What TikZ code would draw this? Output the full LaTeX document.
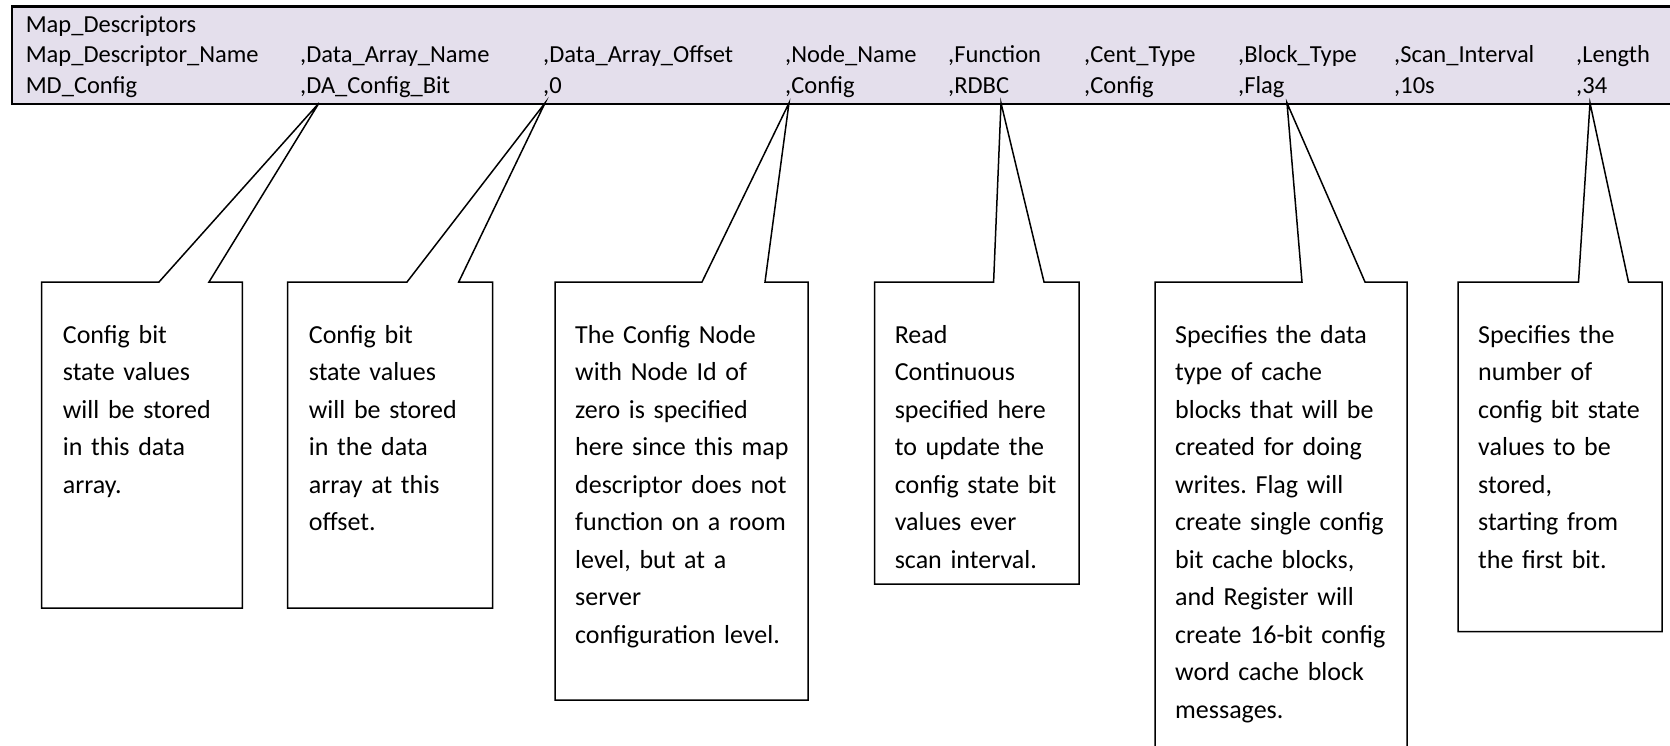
\documentclass[tikz,border=0pt]{standalone}
\usepackage{fontspec}
\setmainfont{Carlito}
\frenchspacing
\definecolor{barfill}{RGB}{228,223,236}
\begin{document}
\begin{tikzpicture}[x=1pt,y=-1pt,
  hdr/.style={anchor=base west, inner sep=0pt, font=\fontsize{24.5}{30}\selectfont},
  note/.style={anchor=base west, inner sep=0pt, align=left, text width=300pt, font=\fontsize{26}{37.5}\selectfont},
  callout/.style={draw=black, line width=1.5pt, line join=miter}]
\useasboundingbox (0,0) rectangle (1670,746);
\clip (0,0) rectangle (1670,746);
% header bar
\node[draw=black, line width=2.5pt, fill=barfill, minimum width=1690pt, minimum height=97.7pt, anchor=north west, inner sep=0pt] (bar) at (10.6,5.3) {};
\node[hdr] (h0) at (25.6,33) {Map\_Descriptors};
\node[hdr] (n0) at (25.6,63) {Map\_Descriptor\_Name};
\node[hdr] (n1) at (300,63) {,Data\_Array\_Name};
\node[hdr] (n2) at (543,63) {,Data\_Array\_Offset};
\node[hdr] (n3) at (785,63) {,Node\_Name};
\node[hdr] (n4) at (948,63) {,Function};
\node[hdr] (n5) at (1084,63) {,Cent\_Type};
\node[hdr] (n6) at (1238,63) {,Block\_Type};
\node[hdr] (n7) at (1394,63) {,Scan\_Interval};
\node[hdr] (n8) at (1576,63) {,Length};
\node[hdr] (v0) at (25.6,94) {MD\_Config};
\node[hdr] (v1) at (300,94) {,DA\_Config\_Bit};
\node[hdr] (v2) at (543,94) {,0};
\node[hdr] (v3) at (785,94) {,Config};
\node[hdr] (v4) at (948,94) {,RDBC};
\node[hdr] (v5) at (1084,94) {,Config};
\node[hdr] (v6) at (1238,94) {,Flag};
\node[hdr] (v7) at (1394,94) {,10s};
\node[hdr] (v8) at (1576,94) {,34};
% pointer apexes
\coordinate (p1) at (319,103);
\coordinate (p2) at (545,103);
\coordinate (p3) at (789,103);
\coordinate (p4) at (1001,103);
\coordinate (p5) at (1287,103);
\coordinate (p6) at (1590,103);
% callouts
\draw[callout] (41.7,282) -- (159,282) -- (p1) -- (209,282) -- (242.3,282) -- (242.3,608) -- (41.7,608) -- cycle;
\draw[callout] (287.7,282) -- (407,282) -- (p2) -- (458.7,282) -- (492.7,282) -- (492.7,608) -- (287.7,608) -- cycle;
\draw[callout] (555,282) -- (702,282) -- (p3) -- (765,282) -- (808,282) -- (808,700) -- (555,700) -- cycle;
\draw[callout] (874.6,282) -- (993.6,282) -- (p4) -- (1044,282) -- (1079,282) -- (1079,584) -- (874.6,584) -- cycle;
\draw[callout] (1155,282) -- (1302,282) -- (p5) -- (1365,282) -- (1407,282) -- (1407,770) -- (1155,770) -- cycle;
\draw[callout] (1458,282) -- (1578.5,282) -- (p6) -- (1628.5,282) -- (1662,282) -- (1662,631.5) -- (1458,631.5) -- cycle;
% texts
\node[note] (t1) at (62.7,343) {Config bit\\state values\\will be stored\\in this data\\array.};
\node[note] (t2) at (308.7,343) {Config bit\\state values\\will be stored\\in the data\\array at this\\offset.};
\node[note] (t3) at (575,343) {The Config Node\\with Node Id of\\zero is specified\\here since this map\\descriptor does not\\function on a room\\level, but at a\\server\\configuration level.};
\node[note] (t4) at (894.6,343) {Read\\Continuous\\specified here\\to update the\\config state bit\\values ever\\scan interval.};
\node[note] (t5) at (1175,343) {Specifies the data\\type of cache\\blocks that will be\\created for doing\\writes. Flag will\\create single config\\bit cache blocks,\\and Register will\\create 16-bit config\\word cache block\\messages.};
\node[note] (t6) at (1478,343) {Specifies the\\number of\\config bit state\\values to be\\stored,\\starting from\\the first bit.};
\end{tikzpicture}
\end{document}
